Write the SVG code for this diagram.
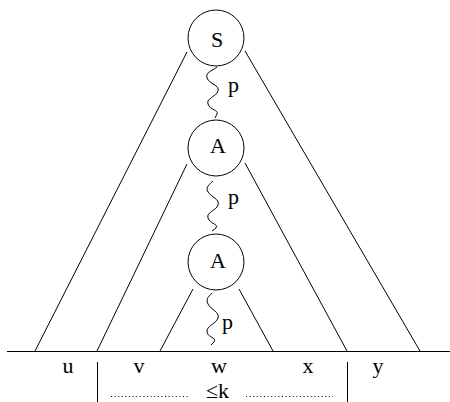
<svg xmlns="http://www.w3.org/2000/svg" width="450" height="402" viewBox="0 0 450 402" font-family="'Liberation Serif', 'DejaVu Serif', serif" font-size="22">
<style>
.ln{stroke:#000;stroke-width:1;fill:none}
.nd{stroke:#000;stroke-width:1;fill:#fff}
.t{font-family:'Liberation Serif','DejaVu Serif',serif;font-size:22px;fill:#000}
.lab{text-anchor:middle}
</style>
<rect width="450" height="402" fill="#fff"/>
<g id="connectors">
<line class="ln" x1="187" y1="52" x2="35" y2="351"/>
<line class="ln" x1="245" y1="51" x2="420" y2="351"/>
<line class="ln" x1="187" y1="164" x2="97" y2="351"/>
<line class="ln" x1="245" y1="163" x2="347" y2="351"/>
<line class="ln" x1="193" y1="289" x2="160" y2="351"/>
<line class="ln" x1="239" y1="289" x2="273" y2="351"/>
<path class="ln" d="M217,67 C214,70 205,72 207,78 C209,84 220,85 218,91 C216,97 206,98 208,104 C210,110 219,110 217,114 L215,118"/>
<path class="ln" d="M213,181 C210,184 205,187 208,192 C211,197 220,199 218,205 C216,211 206,212 208,218 C210,224 219,224 216,228 L212,231"/>
<path class="ln" d="M212,293 C210,296 205,298 208,304 C211,310 220,312 218,318 C216,324 206,326 207,332 C208,338 217,337 214,342 L211,345"/>
<text class="t" x="228" y="92">p</text>
<text class="t" x="228" y="204">p</text>
<text class="t" x="222" y="329">p</text>
</g>
<g id="S"><circle class="nd" cx="216" cy="38" r="28"/><text class="t lab" x="217" y="47">S</text></g>
<g id="A1"><circle class="nd" cx="216" cy="148" r="28"/><text class="t lab" x="218" y="153">A</text></g>
<g id="A2"><circle class="nd" cx="216" cy="262" r="28"/><text class="t lab" x="218" y="268">A</text></g>
<g id="base">
<line class="ln" x1="7" y1="351.5" x2="450" y2="351.5"/>
<line class="ln" x1="97.5" y1="362" x2="97.5" y2="402"/>
<line class="ln" x1="347.5" y1="362" x2="347.5" y2="402"/>
<text class="t lab" x="68" y="373">u</text>
<text class="t lab" x="139" y="373">v</text>
<text class="t lab" x="219" y="373">w</text>
<text class="t lab" x="308" y="373">x</text>
<text class="t lab" x="378" y="373">y</text>
<line class="ln" x1="111" y1="396.5" x2="190" y2="396.5" stroke-dasharray="1,2.6"/>
<line class="ln" x1="246" y1="396.5" x2="333" y2="396.5" stroke-dasharray="1,2.6"/>
<text class="t" x="206" y="398">≤k</text>
</g>
</svg>
